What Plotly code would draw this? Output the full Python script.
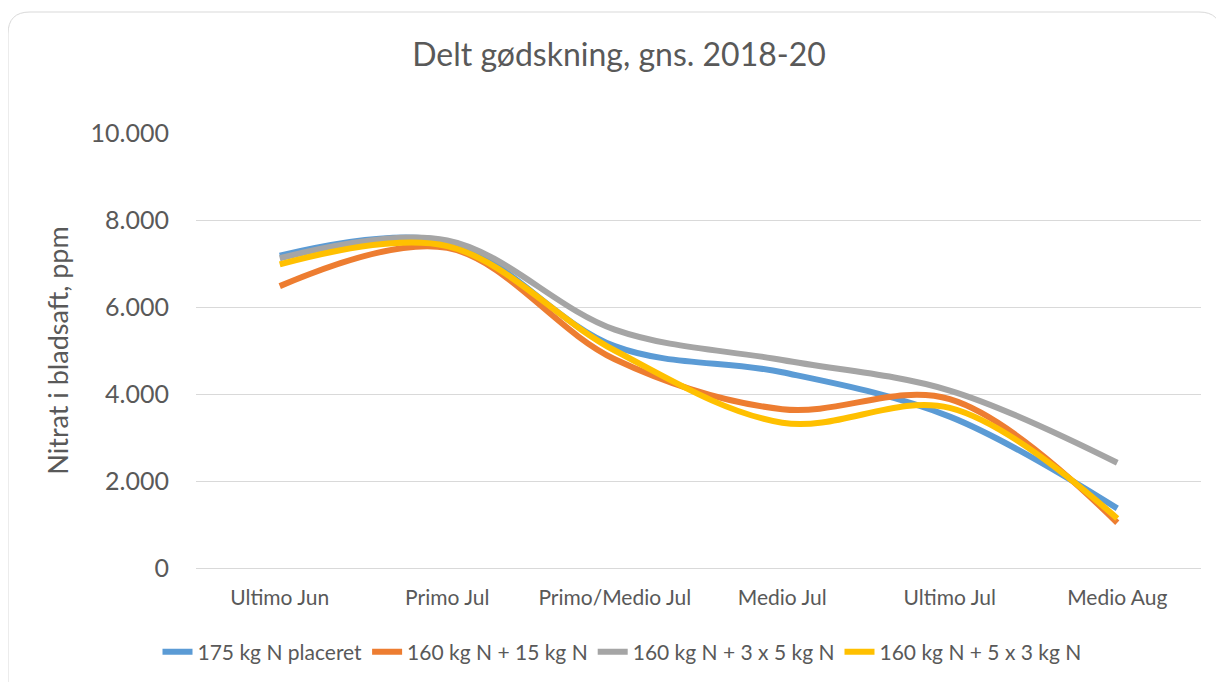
import plotly.graph_objects as go

categories = ["Ultimo Jun", "Primo Jul", "Primo/Medio Jul", "Medio Jul", "Ultimo Jul", "Medio Aug"]
series_names = ["175 kg N placeret", "160 kg N + 15 kg N", "160 kg N + 3 x 5 kg N", "160 kg N + 5 x 3 kg N"]
blue_vals = [7180, 7500, 5100, 4500, 3480, 1370]
orange_vals = [6480, 7360, 4800, 3650, 3880, 1040]
gray_vals = [7120, 7530, 5480, 4780, 4080, 2420]
yellow_vals = [6980, 7400, 5000, 3340, 3680, 1140]
colors = ["#5B9BD5", "#ED7D31", "#A5A5A5", "#FFC000"]
y_ticks = [0, 2000, 4000, 6000, 8000, 10000]

W, H = 1224, 682
OFF = 8  # page offset of the figure in the browser
L, R, T, B = 196 - OFF, W - (1201 - OFF), 133 - OFF, H - (568 - OFF)

pw, ph = W - L - R, H - T - B
def px(x):
    return (x - OFF - L) / pw
def py(y):
    return (H - B - (y - OFF)) / ph

fig = go.Figure()
for name, vals, col in zip(series_names, [blue_vals, orange_vals, gray_vals, yellow_vals], colors):
    fig.add_trace(go.Scatter(
        x=categories, y=vals, name=name, mode="lines",
        line=dict(color=col, width=6, shape="spline", smoothing=1),
    ))

# rounded chart border
x0, x1, y0, y1, r = 8, 1221, 12, 720, 22
path = (f"M {px(x0)},{py(y1)} L {px(x0)},{py(y0 + r)} Q {px(x0)},{py(y0)} {px(x0 + r)},{py(y0)} "
        f"L {px(x1 - r)},{py(y0)} Q {px(x1)},{py(y0)} {px(x1)},{py(y0 + r)} L {px(x1)},{py(y1)}")
fig.add_shape(type="path", path=path, xref="paper", yref="paper",
              line=dict(color="#D9D9D9", width=1), layer="below")

font_family = "Lato, 'Open Sans', sans-serif"
fig.update_layout(
    width=W, height=H, autosize=False,
    margin=dict(l=L, r=R, t=T, b=B, autoexpand=False),
    paper_bgcolor="white", plot_bgcolor="white",
    separators=",.",
    font=dict(family=font_family, color="#595959"),
    title=dict(text="Delt gødskning, gns. 2018-20", x=(619 - OFF) / W, xref="container",
               y=1 - (55 - OFF) / H, yref="container", xanchor="center", yanchor="middle",
               font=dict(size=32, color="#595959", family=font_family)),
    xaxis=dict(showgrid=False, showline=False, zeroline=False, ticks="",
               tickfont=dict(size=21, color="#595959"), ticklabelstandoff=15,
               tickangle=0, range=[-0.5, 5.5]),
    yaxis=dict(range=[0, 10000], tickvals=y_ticks, tickformat=",d",
               showgrid=True, gridcolor="#D9D9D9", gridwidth=1.3,
               zeroline=True, zerolinecolor="#D9D9D9", zerolinewidth=1.3,
               showline=False, ticks="",
               tickfont=dict(size=25, color="#595959"), ticklabelstandoff=26,
               title=dict(text="Nitrat i bladsaft, ppm", font=dict(size=27, color="#595959"),
                          standoff=14)),
    legend=dict(orientation="h", x=px(622), xref="paper", xanchor="center",
                y=py(652), yanchor="middle",
                font=dict(size=21, color="#595959"), traceorder="normal"),
    showlegend=True,
)

fig.write_html("out.html")
